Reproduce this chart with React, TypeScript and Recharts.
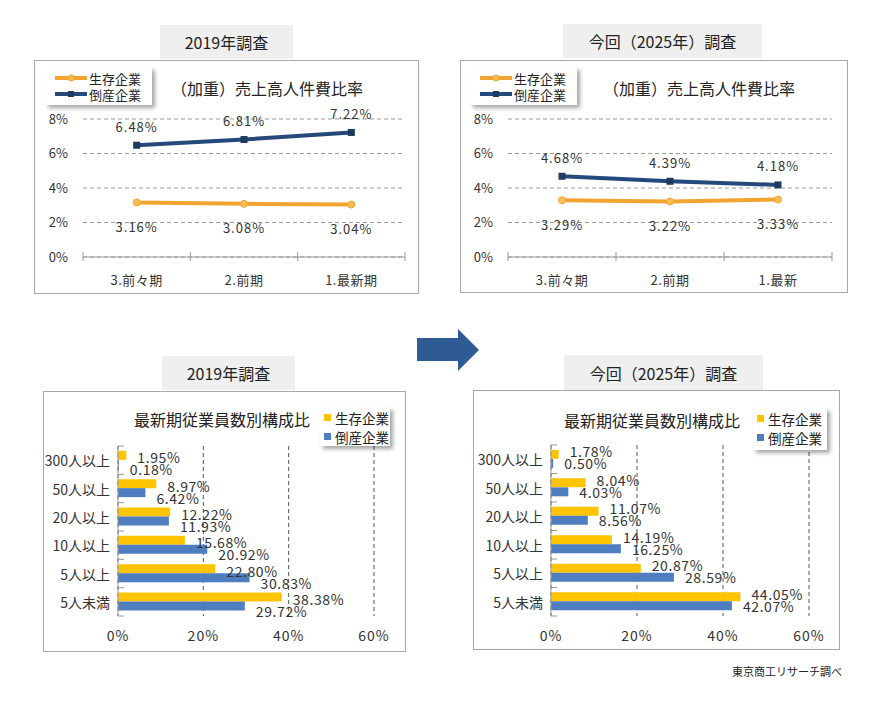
import React from 'react';
import { LineChart, Line, XAxis, YAxis, CartesianGrid, LabelList, BarChart, Bar } from 'recharts';

const FONT = '"Noto Sans CJK JP", "Noto Sans", sans-serif';

// ---- data ----
const panelTitles = ['2019年調査', '今回（2025年）調査'];
const seriesNames = ['生存企業', '倒産企業'];
const lineTitle = '（加重）売上高人件費比率';
const barTitle = '最新期従業員数別構成比';
const sourceNote = '東京商工リサーチ調べ';

const lineCats2019 = ['3.前々期', '2.前期', '1.最新期'];
const survivor2019 = [3.16, 3.08, 3.04];
const bankrupt2019 = [6.48, 6.81, 7.22];

const lineCats2025 = ['3.前々期', '2.前期', '1.最新'];
const survivor2025 = [3.29, 3.22, 3.33];
const bankrupt2025 = [4.68, 4.39, 4.18];

const lineTicks = [0, 2, 4, 6, 8];

const sizeCats = ['300人以上', '50人以上', '20人以上', '10人以上', '5人以上', '5人未満'];
const survivorSize2019 = [1.95, 8.97, 12.22, 15.68, 22.8, 38.38];
const bankruptSize2019 = [0.18, 6.42, 11.93, 20.92, 30.83, 29.72];
const survivorSize2025 = [1.78, 8.04, 11.07, 14.19, 20.87, 44.05];
const bankruptSize2025 = [0.5, 4.03, 8.56, 16.25, 28.59, 42.07];

const barTicks = [0, 20, 40, 60];

// ---- colors ----
const ORANGE = '#F2A431';
const ORANGE_DOT = '#F7BC55';
const NAVY = '#25497A';
const NAVY_DOT = '#1E3A61';
const YELLOW = '#FFC400';
const BLUE = '#4E7EC0';
const TEXT = '#333333';

const fmtPct = (v: number) => `${v.toFixed(2)}%`;

const abs = (l: number, t: number, w: number, h: number): React.CSSProperties => ({
  position: 'absolute',
  left: l,
  top: t,
  width: w,
  height: h,
  boxSizing: 'border-box',
});

const TitleBox = ({ l, t, w, h, text }: any) => (
  <div
    style={{
      ...abs(l, t, w, h),
      background: '#EFEFEF',
      display: 'flex',
      alignItems: 'center',
      justifyContent: 'center',
      fontFamily: FONT,
      fontSize: 16,
      color: '#222',
    }}
  >
    {text}
  </div>
);

const Frame = ({ l, t, w, h }: any) => (
  <div style={{ ...abs(l, t, w, h), border: '1px solid #A8A8A8', background: '#fff' }} />
);

const ChartTitle = ({ cx, cy, text }: any) => (
  <div
    style={{
      position: 'absolute',
      left: cx - 150,
      top: cy - 11,
      width: 300,
      height: 22,
      lineHeight: '22px',
      textAlign: 'center',
      fontFamily: FONT,
      fontSize: 16,
      color: '#222',
    }}
  >
    {text}
  </div>
);

const LineLegend = ({ l, t }: any) => (
  <div
    style={{
      ...abs(l, t, 107, 38),
      background: '#fff',
      boxShadow: '3px 3px 4px rgba(0,0,0,0.35)',
      fontFamily: FONT,
      fontSize: 13,
      color: '#222',
      paddingTop: 3,
      paddingLeft: 8,
    }}
  >
    {[0, 1].map((i) => (
      <div key={i} style={{ display: 'flex', alignItems: 'center', height: 16 }}>
        <svg width={36} height={10}>
          <line x1={2} x2={34} y1={5} y2={5} stroke={i === 0 ? ORANGE : NAVY} strokeWidth={4} />
          {i === 0 ? (
            <circle cx={18} cy={5} r={3} fill={ORANGE_DOT} stroke={ORANGE} />
          ) : (
            <rect x={15} y={2} width={6} height={6} fill={NAVY_DOT} />
          )}
        </svg>
        <span>{seriesNames[i]}</span>
      </div>
    ))}
  </div>
);

const BarLegend = ({ l, t, w, h }: any) => (
  <div
    style={{
      ...abs(l, t, w, h),
      background: '#fff',
      boxShadow: '3px 3px 4px rgba(0,0,0,0.35)',
      fontFamily: FONT,
      fontSize: 13.5,
      color: '#222',
      paddingTop: 1,
      paddingLeft: 4,
    }}
  >
    {[0, 1].map((i) => (
      <div key={i} style={{ display: 'flex', alignItems: 'center', height: 19 }}>
        <span
          style={{
            display: 'inline-block',
            width: 7,
            height: 7,
            background: i === 0 ? YELLOW : BLUE,
            marginRight: 4,
          }}
        />
        <span>{seriesNames[i]}</span>
      </div>
    ))}
  </div>
);

const makeLineXTick = (half: number, count: number) => (props: any) => {
  const { x, y, payload, index } = props;
  return (
    <g>
      <line x1={x - half} x2={x - half} y1={y - 5} y2={y + 4} stroke="#999" />
      {index === count - 1 && <line x1={x + half} x2={x + half} y1={y - 5} y2={y + 4} stroke="#999" />}
      <text
        x={x}
        y={y + 22}
        textAnchor="middle"
        dominantBaseline="central"
        fontSize={13}
        fill={TEXT}
        fontFamily={FONT}
        letterSpacing={0.5}
      >
        {payload.value}
      </text>
    </g>
  );
};

const makeLineLabel = (dy: number) => (props: any) => {
  const { x, y, value } = props;
  return (
    <text
      x={x}
      y={y + dy}
      textAnchor="middle"
      dominantBaseline="central"
      fontSize={13}
      fill={TEXT}
      fontFamily={FONT}
      letterSpacing={1}
    >
      {fmtPct(value)}
    </text>
  );
};

const OrangeDot = (props: any) => {
  const { cx, cy } = props;
  return <circle cx={cx} cy={cy} r={3.5} fill={ORANGE_DOT} stroke={ORANGE} strokeWidth={1} />;
};
const NavyDot = (props: any) => {
  const { cx, cy } = props;
  return <rect x={cx - 3.5} y={cy - 3.5} width={7} height={7} fill={NAVY_DOT} />;
};

const RatioChart = ({ l, t, w, h, yw, xh, mr, cats, surv, bank }: any) => {
  const data = cats.map((c: string, i: number) => ({ cat: c, s: surv[i], b: bank[i] }));
  const plotW = w - yw - mr;
  const half = plotW / cats.length / 2;
  return (
    <div style={{ position: 'absolute', left: l, top: t }}>
      <LineChart width={w} height={h} data={data} margin={{ top: 59, right: mr, left: 0, bottom: 0 }}>
        <CartesianGrid vertical={false} stroke="#9A9A9A" strokeDasharray="4 3" />
        <XAxis
          dataKey="cat"
          height={xh}
          padding={{ left: half, right: half }}
          axisLine={{ stroke: '#999' }}
          tickLine={false}
          tickSize={0}
          tickMargin={0}
          tick={makeLineXTick(half, cats.length)}
          interval={0}
        />
        <YAxis
          width={yw}
          domain={[0, 8]}
          ticks={lineTicks}
          axisLine={false}
          tickLine={false}
          tickSize={0}
          tickMargin={15}
          tickFormatter={(v: number) => `${v}%`}
          tick={{ fontSize: 13, fill: TEXT, fontFamily: FONT }}
        />
        <Line
          dataKey="b"
          stroke={NAVY}
          strokeWidth={4}
          dot={<NavyDot />}
          activeDot={false}
          isAnimationActive={false}
        >
          <LabelList dataKey="b" content={makeLineLabel(-19)} />
        </Line>
        <Line
          dataKey="s"
          stroke={ORANGE}
          strokeWidth={4}
          dot={<OrangeDot />}
          activeDot={false}
          isAnimationActive={false}
        >
          <LabelList dataKey="s" content={makeLineLabel(24)} />
        </Line>
      </LineChart>
    </div>
  );
};

const makeBarYTick = (half: number, margin: number, count: number) => (props: any) => {
  const { x, y, payload, index } = props;
  const ax = x + margin;
  return (
    <g>
      <line x1={ax} x2={ax + 6} y1={y - half} y2={y - half} stroke="#999" />
      {index === count - 1 && <line x1={ax} x2={ax + 6} y1={y + half} y2={y + half} stroke="#999" />}
      <text
        x={x + 1}
        y={y}
        textAnchor="end"
        dominantBaseline="central"
        fontSize={14}
        fill={TEXT}
        fontFamily={FONT}
      >
        {payload.value}
      </text>
    </g>
  );
};

const BarXTick = (props: any) => {
  const { x, y, payload } = props;
  return (
    <text
      x={x}
      y={y + 19}
      textAnchor="middle"
      dominantBaseline="central"
      fontSize={14}
      fill={TEXT}
      fontFamily={FONT}
      letterSpacing={1}
    >
      {`${payload.value}%`}
    </text>
  );
};

const makeBarLabel = (dy: number) => (props: any) => {
  const { x, y, width, height, value } = props;
  return (
    <text
      x={x + width + 11}
      y={y + height / 2 + dy}
      textAnchor="start"
      dominantBaseline="central"
      fontSize={14}
      fill={TEXT}
      fontFamily={FONT}
      letterSpacing={0.6}
    >
      {fmtPct(value)}
    </text>
  );
};

const SizeChart = ({ l, t, w, h, yw, xh, mr, surv, bank, dyS, dyB }: any) => {
  const data = sizeCats.map((c, i) => ({ cat: c, s: surv[i], b: bank[i] }));
  const plotH = h - 55 - xh;
  const half = plotH / sizeCats.length / 2;
  const tm = 9;
  return (
    <div style={{ position: 'absolute', left: l, top: t }}>
      <BarChart
        width={w}
        height={h}
        data={data}
        layout="vertical"
        margin={{ top: 55, right: mr, left: 0, bottom: 0 }}
        barCategoryGap="17%"
        barGap={0}
      >
        <CartesianGrid horizontal={false} stroke="#555" strokeDasharray="4 3" />
        <XAxis
          type="number"
          domain={[0, 60]}
          ticks={barTicks}
          height={xh}
          axisLine={false}
          tickLine={false}
          tickSize={0}
          tickMargin={0}
          tick={<BarXTick />}
          interval={0}
        />
        <YAxis
          type="category"
          dataKey="cat"
          width={yw}
          axisLine={{ stroke: '#999' }}
          tickLine={false}
          tickSize={0}
          tickMargin={tm}
          tick={makeBarYTick(half, tm, sizeCats.length)}
          interval={0}
        />
        <Bar dataKey="s" fill={YELLOW} isAnimationActive={false}>
          <LabelList dataKey="s" content={makeBarLabel(dyS)} />
        </Bar>
        <Bar dataKey="b" fill={BLUE} isAnimationActive={false}>
          <LabelList dataKey="b" content={makeBarLabel(dyB)} />
        </Bar>
      </BarChart>
    </div>
  );
};

export default function App() {
  return (
    <div
      style={{
        position: 'absolute',
        left: 0,
        top: 0,
        width: 877,
        height: 726,
        background: '#fff',
        overflow: 'hidden',
      }}
    >
      {/* top-left */}
      <TitleBox l={160} t={25} w={133} h={34} text={panelTitles[0]} />
      <Frame l={34} t={60} w={385} h={234} />
      <ChartTitle cx={267} cy={88} text={lineTitle} />
      <RatioChart
        l={34}
        t={60}
        w={385}
        h={234}
        yw={49}
        xh={37}
        mr={14}
        cats={lineCats2019}
        surv={survivor2019}
        bank={bankrupt2019}
      />
      <LineLegend l={45} t={67} />

      {/* top-right */}
      <TitleBox l={563} t={24} w={199} h={34} text={panelTitles[1]} />
      <Frame l={460} t={60} w={388} h={233} />
      <ChartTitle cx={699} cy={88} text={lineTitle} />
      <RatioChart
        l={460}
        t={60}
        w={388}
        h={233}
        yw={48}
        xh={36}
        mr={16}
        cats={lineCats2025}
        surv={survivor2025}
        bank={bankrupt2025}
      />
      <LineLegend l={470} t={67} />

      {/* arrow */}
      <svg style={{ position: 'absolute', left: 410, top: 325 }} width={80} height={50}>
        <polygon points="7,13 48,13 48,4 69,25 48,46 48,36 7,36" fill="#2F5B94" />
      </svg>

      {/* bottom-left */}
      <TitleBox l={162} t={356} w={133} h={34} text={panelTitles[0]} />
      <Frame l={43} t={391} w={363} h={261} />
      <ChartTitle cx={222} cy={419} text={barTitle} />
      <SizeChart
        l={43}
        t={391}
        w={363}
        h={261}
        yw={75}
        xh={36}
        mr={32}
        surv={survivorSize2019}
        bank={bankruptSize2019}
        dyS={2}
        dyB={5}
      />
      <BarLegend l={320} t={407} w={70} h={39} />

      {/* bottom-right */}
      <TitleBox l={564} t={355} w={199} h={35} text={panelTitles[1]} />
      <Frame l={473} t={390} w={367} h={260} />
      <ChartTitle cx={652} cy={420} text={barTitle} />
      <SizeChart
        l={473}
        t={390}
        w={367}
        h={260}
        yw={78}
        xh={34}
        mr={31}
        surv={survivorSize2025}
        bank={bankruptSize2025}
        dyS={-3}
        dyB={0}
      />
      <BarLegend l={753} t={408} w={74} h={42} />

      <div
        style={{
          position: 'absolute',
          right: 877 - 842,
          top: 663,
          fontFamily: FONT,
          fontSize: 11,
          color: '#222',
          whiteSpace: 'nowrap',
        }}
      >
        {sourceNote}
      </div>
    </div>
  );
}
